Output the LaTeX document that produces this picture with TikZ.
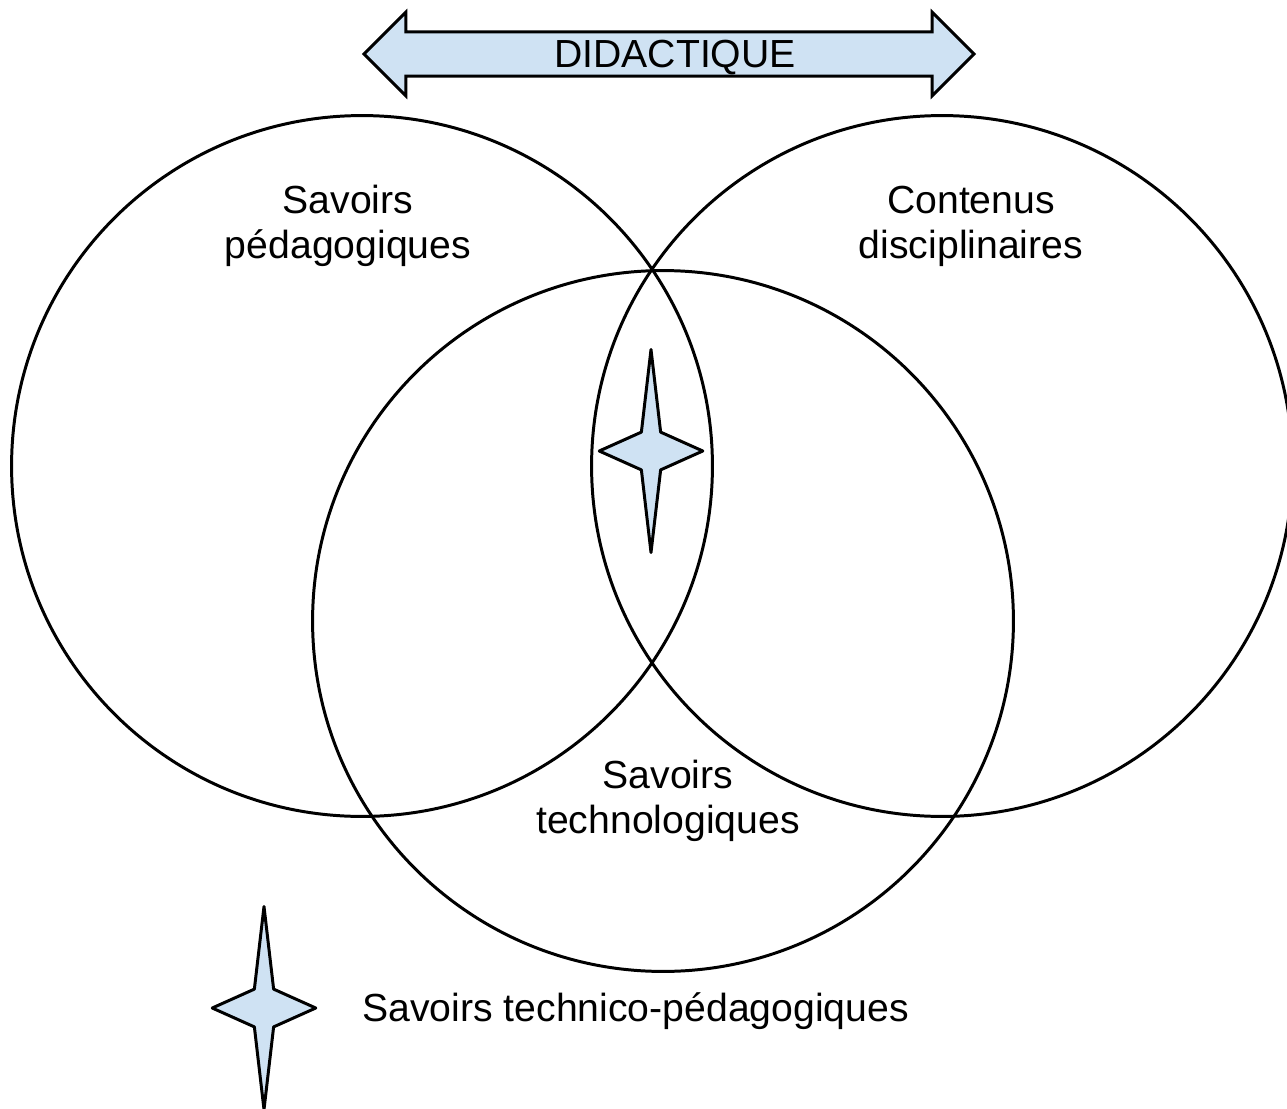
\documentclass[tikz,border=0pt]{standalone}
\usepackage{fontspec}
\setmainfont{Liberation Sans}
\usepackage{tikz}
\usetikzlibrary{shapes.geometric, shapes.arrows}
\usepackage{xcolor}
\definecolor{paleblue}{HTML}{CFE2F3}

\begin{document}
\begin{tikzpicture}[x=0.02cm,y=-0.02cm]
					\tikzstyle{savoir} = [circle,draw=black,line width=1.7pt,minimum size=14.02cm,inner sep=0pt]
					\tikzstyle{titre} = [align=center,font=\fontsize{22.3}{25.5}\selectfont,inner sep=0pt]
					\tikzstyle{etoile} = [star,star points=4,star point ratio=3.8,minimum size=4.06cm,inner sep=0pt,xscale=0.51,transform shape,draw=black,fill=paleblue,line width=1.7pt,line join=round]
					\tikzstyle{fleche} = [double arrow,draw=black,fill=paleblue,line width=1.7pt,double arrow head extend=0.39cm,minimum height=12.2cm,minimum width=1.62cm,inner ysep=0pt,text height=0.69cm,text depth=0.14cm,font=\fontsize{22.3}{25.5}\selectfont]
					\useasboundingbox (0,0) rectangle (1287,1108);
					\node[savoir] (ped) at (362,466) {};
					\node[savoir] (disc) at (942,466) {};
					\node[savoir] (techno) at (663,621) {};
					\node[fleche] (didac) at (669,54) {\hspace*{0.24cm}DIDACTIQUE};
					\node[titre] (tped) at (348,226) {Savoirs\\pédagogiques};
					\node[titre] (tdisc) at (971,226) {Contenus\\disciplinaires};
					\node[titre] (ttechno) at (668,801) {Savoirs\\technologiques};
					\node[etoile] (s1) at (651,451) {};
					\node[etoile] (s2) at (264,1008) {};
					\node[titre,anchor=base west] (tlegende) at (362,1021) {Savoirs technico-pédagogiques};
					\end{tikzpicture}
\end{document}
